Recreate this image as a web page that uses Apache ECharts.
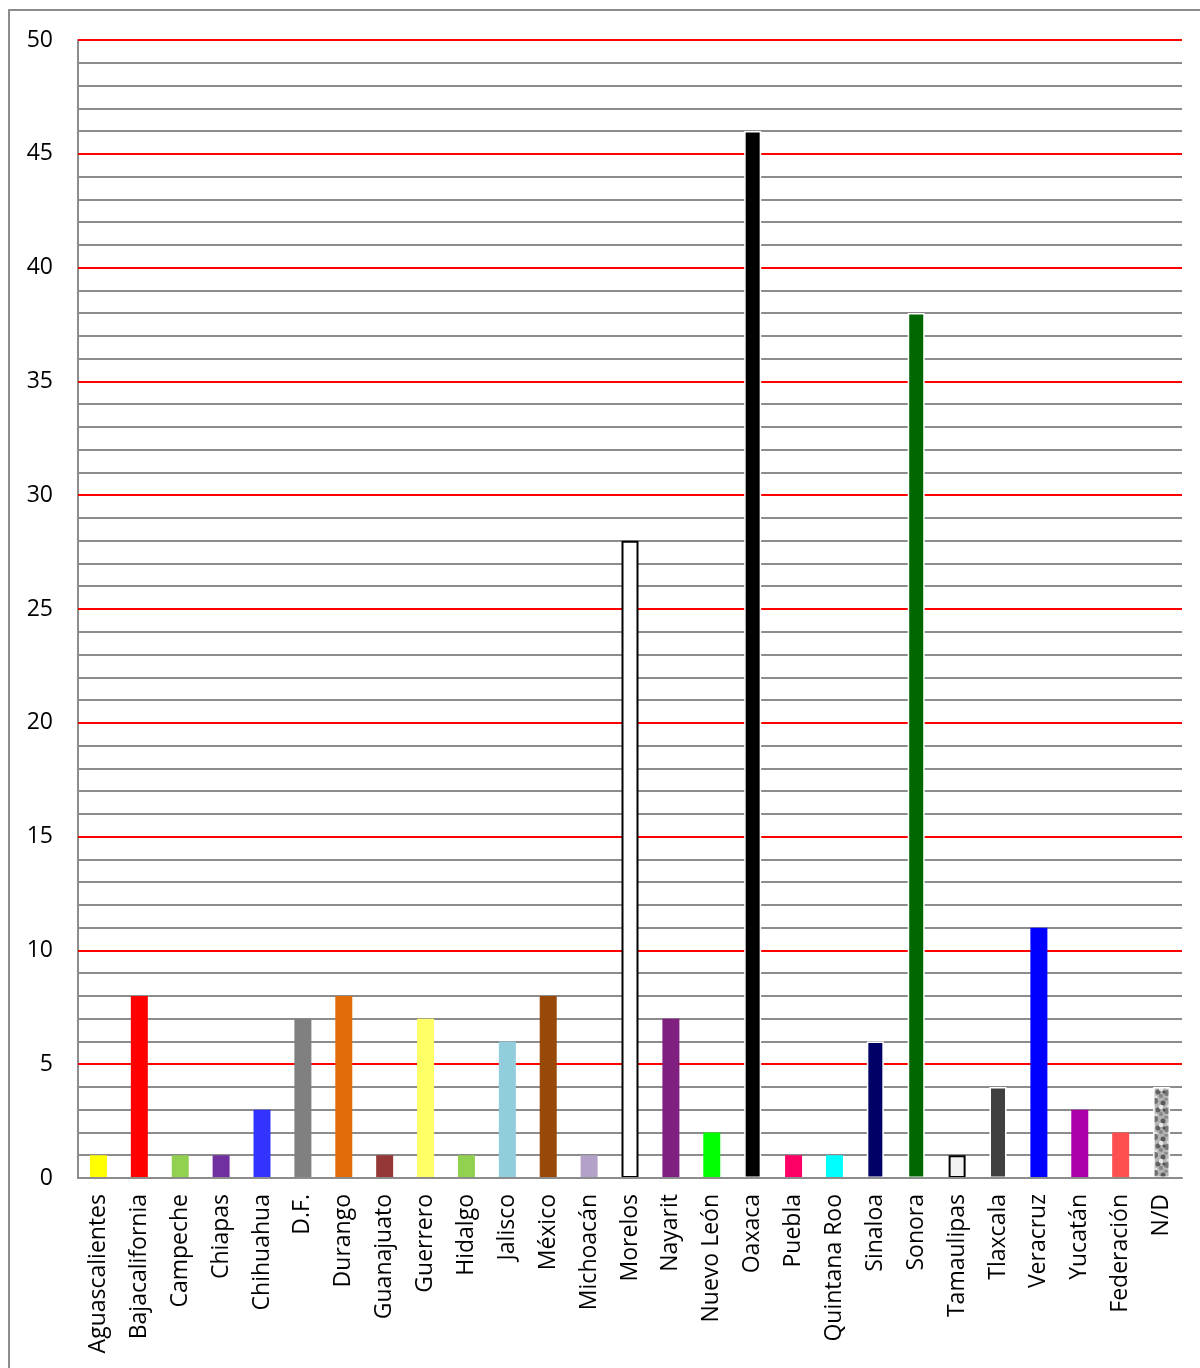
<!DOCTYPE html>
<html>
<head>
<meta charset="utf-8">
<style>
  html, body { margin: 0; padding: 0; background: #fff; }
  #chart { width: 1200px; height: 1368px; }
</style>
<script src="https://cdn.jsdelivr.net/npm/echarts@6/dist/echarts.min.js"></script>
</head>
<body>
<div id="chart"></div>
<script>
// States and counts
const states = ['Aguascalientes', 'Bajacalifornia', 'Campeche', 'Chiapas', 'Chihuahua', 'D.F.', 'Durango',
  'Guanajuato', 'Guerrero', 'Hidalgo', 'Jalisco', 'México', 'Michoacán', 'Morelos', 'Nayarit', 'Nuevo León',
  'Oaxaca', 'Puebla', 'Quintana Roo', 'Sinaloa', 'Sonora', 'Tamaulipas', 'Tlaxcala', 'Veracruz', 'Yucatán',
  'Federación', 'N/D'];
const counts = [1, 8, 1, 1, 3, 7, 8, 1, 7, 1, 6, 8, 1, 28, 7, 2, 46, 1, 1, 6, 38, 1, 4, 11, 3, 2, 4];
const yTicks = [0, 5, 10, 15, 20, 25, 30, 35, 40, 45, 50];

// Fill colour of each bar ('texture' = speckled grey pattern)
const fills = ['#FFFF00', '#FF0000', '#92D050', '#7030A0', '#3333FF', '#808080', '#E36C0A',
  '#953735', '#FFFF66', '#92D050', '#92CDDC', '#984807', '#B3A2C7', '#FFFFFF', '#7F1F80', '#00FF00',
  '#000000', '#FF0066', '#00FFFF', '#000066', '#006600', '#F2F2F2', '#404040', '#0000FF', '#AA00AA',
  '#FF5050', 'texture'];
// Outline of each bar
const outlines = ['none', 'none', 'none', 'none', 'none', 'none', 'none',
  'none', 'none', 'none', 'none', 'none', 'none', '#000000', 'none', 'none',
  '#FFFFFF', 'none', 'none', '#FFFFFF', '#FFFFFF', '#000000', '#FFFFFF', 'none', 'none',
  'none', '#FFFFFF'];

// Mottled grey tile for the N/D bar
function makeTexture() {
  const c = document.createElement('canvas');
  c.width = 18; c.height = 18;
  const ctx = c.getContext('2d');
  ctx.fillStyle = '#B4B4B4';
  ctx.fillRect(0, 0, 18, 18);
  const spots = [
    [3, 3, 3, '#707070'], [11, 5, 2.5, '#5A5A5A'], [15, 13, 3, '#7A7A7A'], [6, 12, 2.5, '#626262'],
    [9, 16, 2, '#858585'], [14, 1, 2, '#8E8E8E'], [1, 9, 2, '#E4E4E4'], [9, 9, 2.2, '#E8E8E8'],
    [16, 8, 1.6, '#DADADA'], [4, 17, 1.6, '#E0E0E0'], [12, 12, 1.5, '#4E4E4E'], [17, 17, 1.5, '#D0D0D0']
  ];
  spots.forEach(([x, y, r, col]) => {
    ctx.fillStyle = col;
    ctx.beginPath();
    ctx.arc(x, y, r, 0, Math.PI * 2);
    ctx.fill();
  });
  return c;
}
const texture = makeTexture();

const barData = counts.map((v, i) => {
  const fill = fills[i] === 'texture' ? { image: texture, repeat: 'repeat' } : fills[i];
  const style = { color: fill };
  if (outlines[i] !== 'none') {
    style.borderColor = outlines[i];
    style.borderWidth = outlines[i] === '#000000' ? 2 : 1.5;
  }
  return { value: v, itemStyle: style };
});

const chart = echarts.init(document.getElementById('chart'), null, { renderer: 'canvas' });
const font = '"Open Sans", "DejaVu Sans", sans-serif';

chart.setOption({
  animation: false,
  backgroundColor: '#FFFFFF',
  graphic: [{
    type: 'rect',
    shape: { x: 9, y: 10, width: 1240, height: 1420 },
    style: { fill: 'none', stroke: '#8C8C8C', lineWidth: 2 },
    silent: true,
    z: -10
  }],
  grid: { left: 78, right: 18, top: 40, bottom: 190, containLabel: false },
  xAxis: {
    type: 'category',
    data: states,
    z: 5,
    axisLine: { show: true, lineStyle: { color: '#8C8C8C', width: 2 } },
    axisTick: { show: false },
    axisLabel: {
      rotate: 90,
      interval: 0,
      margin: 16,
      fontSize: 23,
      fontFamily: font,
      color: '#000000'
    }
  },
  yAxis: [{
    // minor grid, one line per unit
    type: 'value',
    min: 0, max: 50, interval: 1,
    axisLine: { show: true, lineStyle: { color: '#8C8C8C', width: 2 } },
    axisTick: { show: false },
    axisLabel: { show: false },
    splitLine: { show: true, lineStyle: { color: '#8C8C8C', width: 2 } }
  }, {
    // major grid, labelled every five units
    type: 'value',
    position: 'left',
    min: 0, max: 50, interval: 5,
    z: 1,
    axisLine: { show: false },
    axisTick: { show: false },
    axisLabel: {
      margin: 25,
      fontSize: 23,
      fontFamily: font,
      color: '#000000',
      customValues: yTicks
    },
    splitLine: { show: true, lineStyle: { color: '#FF0000', width: 2 } }
  }],
  series: [{
    type: 'bar',
    yAxisIndex: 0,
    barWidth: 17,
    data: barData,
    z: 3
  }]
});
</script>
</body>
</html>
